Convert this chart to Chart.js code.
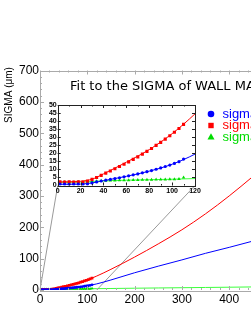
<!DOCTYPE html>
<html><head><meta charset="utf-8">
<script src="https://cdn.jsdelivr.net/npm/chart.js@4"></script>
<style>
html,body{margin:0;padding:0;background:#fff;overflow:hidden;width:251px;height:325px;}
#wrap{position:relative;width:251px;height:325px;overflow:hidden;}
#main{position:absolute;left:0;top:0;width:340px;height:325px;}
#inset{position:absolute;left:40px;top:95px;width:165px;height:105px;}
</style></head><body>
<div id="wrap"><canvas id="main" width="340" height="325"></canvas><canvas id="inset" width="165" height="105"></canvas></div>
<script>
// ---- data ----
const xPoints = [2,6,10,14,18,22,26,30,34,38,42,46,50,54,58,62,66,70,74,78,82,86,90,94,98,102,106,110];
const sigRed   = [2.3,2.2,2.3,2.2,2.3,2.2,2.7,3.8,5.0,6.3,7.7,9.0,10.4,11.8,13.2,14.7,16.2,17.8,19.5,21.2,23.0,24.9,26.8,28.8,30.9,33.1,35.4,38.0];
const sigBlue  = [0.8,0.8,0.7,0.8,0.8,0.7,0.9,1.6,2.2,2.8,3.3,3.8,4.3,4.8,5.4,6.0,6.6,7.2,7.9,8.6,9.3,10.1,10.9,11.8,12.7,13.7,14.8,16.4];
const sigGreen = [2.0,2.1,2.0,2.0,2.1,2.0,2.2,2.5,2.7,2.9,3.0,3.1,3.1,3.2,3.3,3.3,3.4,3.4,3.5,3.6,3.6,3.7,3.7,3.8,3.9,3.9,4.0,5.0];
const xFit     = [0,10,20,30,40,60,80,100,120,150,200,250,300,350,400,450,500,550,600];
const fitRed   = [2.2,2.3,2.6,3.9,7.2,14.5,22.3,32.2,44.5,66,105,147,192,243,300,362,427,495,567];
const fitBlue  = [0.8,0.8,0.9,1.6,3.0,5.7,8.9,13.2,19.5,32,55,76,96,117,136,156,175,195,214];
const fitGreen = [2.0,2.0,2.1,2.5,2.9,3.3,3.6,3.9,4.3,4.8,5.7,6.5,7.3,8.1,8.9,9.8,10.6,11.4,12.2];
const seriesLabels = ['sigma_x','sigma_y','sigma_z'];
const mainXTicks = [0,100,200,300,400,500,600];
const mainYTicks = [0,100,200,300,400,500,600,700];
const insetXTicks = [0,20,40,60,80,100,120];
const insetYTicks = [0,5,10,15,20,25,30,35,40,45,50];
const titleText = 'Fit to the SIGMA of WALL MATERIAL';
const yTitle = 'SIGMA (\u03BCm)';

const RED='rgb(255,0,0)', BLUE='rgb(0,0,255)', GREEN='rgb(0,220,0)', GREENL='rgb(60,255,60)';

function pts(xs, ys){ return xs.map((x,i)=>({x:x,y:ys[i]})); }

function makeDatasets(mr){
  return [
    {data:pts(xPoints,sigBlue), showLine:false, pointStyle:'circle', pointRadius:mr*0.8, backgroundColor:BLUE, borderWidth:0, order:0},
    {data:pts(xPoints,sigRed), showLine:false, pointStyle:'rect', pointRadius:mr*1.1, backgroundColor:RED, borderWidth:0, order:0},
    {data:pts(xPoints,sigGreen), showLine:false, pointStyle:'triangle', pointRadius:mr, backgroundColor:GREEN, borderWidth:0, order:0},
    {data:pts(xFit,fitBlue), showLine:true, pointRadius:0, borderColor:BLUE, borderWidth:1, cubicInterpolationMode:'monotone', order:1},
    {data:pts(xFit,fitRed), showLine:true, pointRadius:0, borderColor:RED, borderWidth:1, cubicInterpolationMode:'monotone', order:1},
    {data:pts(xFit,fitGreen), showLine:true, pointRadius:0, borderColor:GREENL, borderWidth:1, cubicInterpolationMode:'monotone', order:1}
  ];
}

function tickPlugin(id, boxColor, xStep, yStep, xMajor, yMajor, majLen, minLen){
  return {
    id:id,
    afterDatasetsDraw(chart){
      const c=chart.ctx, a=chart.chartArea, xs=chart.scales.x, ys=chart.scales.y;
      c.save();
      c.strokeStyle=boxColor; c.lineWidth=1;
      c.strokeRect(Math.round(a.left)+0.5, Math.round(a.top)+0.5, Math.round(a.right-a.left), Math.round(a.bottom-a.top));
      c.beginPath();
      for(let v=xs.min; v<=xs.max+1e-9; v+=xStep){
        const p=Math.round(xs.getPixelForValue(v))+0.5;
        const L=(Math.abs(v/xMajor-Math.round(v/xMajor))<1e-6)?majLen:minLen;
        c.moveTo(p,a.bottom); c.lineTo(p,a.bottom-L);
        c.moveTo(p,a.top); c.lineTo(p,a.top+L);
      }
      for(let v=ys.min; v<=ys.max+1e-9; v+=yStep){
        const p=Math.round(ys.getPixelForValue(v))+0.5;
        const L=(Math.abs(v/yMajor-Math.round(v/yMajor))<1e-6)?majLen:minLen;
        c.moveTo(a.left,p); c.lineTo(a.left+L,p);
        c.moveTo(a.right,p); c.lineTo(a.right-L,p);
      }
      c.stroke();
      c.restore();
    }
  };
}

// ---- inset chart ----
const insetEl=document.getElementById('inset');
const inset = new Chart(insetEl, {
  type:'scatter',
  data:{datasets:makeDatasets(2)},
  options:{
    responsive:false, animation:false, events:[],
    layout:{padding:{top:10,right:10,left:0,bottom:0}},
    plugins:{legend:{display:false},tooltip:{enabled:false}},
    scales:{
      x:{type:'linear',min:0,max:120,afterBuildTicks(s){s.ticks=insetXTicks.map(v=>({value:v}));},
         ticks:{font:{family:'Liberation Sans',size:7,weight:'bold'},color:'#000',padding:1,maxRotation:0,autoSkip:false},
         grid:{display:false,drawTicks:false}, border:{display:false},
         afterFit(s){s.height=14.5;}},
      y:{type:'linear',min:0,max:50,afterBuildTicks(s){s.ticks=insetYTicks.map(v=>({value:v}));},
         ticks:{font:{family:'Liberation Sans',size:7,weight:'bold'},color:'#000',padding:1,autoSkip:false},
         grid:{display:false,drawTicks:false}, border:{display:false},
         afterFit(s){s.width=17.7;}}
    }
  },
  plugins:[{id:'bg',beforeDraw(chart){const a=chart.chartArea,c=chart.ctx;c.save();c.fillStyle='#fff';c.fillRect(a.left,a.top,a.right-a.left,a.bottom-a.top);c.restore();}},
           tickPlugin('insetTicks','#222',10,5,20,5,3,1.5)]
});

// ---- main chart ----
function drawMarker(c, style, x, y, r, color){
  c.fillStyle=color; c.beginPath();
  if(style==='circle'){ c.arc(x,y,r,0,Math.PI*2); }
  else if(style==='rect'){ c.rect(x-r,y-r,2*r,2*r); }
  else { c.moveTo(x,y-r*1.15); c.lineTo(x+r*1.1,y+r*0.8); c.lineTo(x-r*1.1,y+r*0.8); c.closePath(); }
  c.fill();
}

const mainDecor = {
  id:'mainDecor',
  beforeDatasetsDraw(chart){
    const c=chart.ctx, xs=chart.scales.x, ys=chart.scales.y, ia=inset.chartArea;
    const ox=insetEl.offsetLeft, oy=insetEl.offsetTop;
    c.save();
    c.strokeStyle='#999'; c.lineWidth=1;
    c.beginPath();
    c.moveTo(xs.getPixelForValue(0), ys.getPixelForValue(0)); c.lineTo(ox+ia.left, oy+ia.bottom);
    c.moveTo(xs.getPixelForValue(120), ys.getPixelForValue(0)); c.lineTo(ox+ia.right, oy+ia.bottom);
    c.stroke();
    c.restore();
  },
  afterDraw(chart){
    const c=chart.ctx;
    c.save();
    c.fillStyle='#000';
    c.font='13px "DejaVu Sans"'; c.textAlign='left'; c.textBaseline='middle';
    c.fillText(titleText, 70, 87);
    c.save(); c.translate(9,95); c.rotate(-Math.PI/2);
    c.font='10px "Liberation Sans"'; c.textAlign='center'; c.textBaseline='middle';
    c.fillText(yTitle,0,0); c.restore();
    const cols=[BLUE,RED,GREEN], styles=['circle','rect','triangle'], ry=[114,125.5,137], rr=[3.3,2.7,3.2];
    c.font='13px "Liberation Sans"'; c.textBaseline='middle';
    for(let i=0;i<3;i++){
      drawMarker(c, styles[i], 211, ry[i], rr[i], cols[i]);
      c.fillStyle=cols[i]; c.fillText(seriesLabels[i], 222.5, ry[i]);
    }
    c.restore();
  }
};

new Chart(document.getElementById('main'), {
  type:'scatter',
  data:{datasets:makeDatasets(1.8)},
  options:{
    responsive:false, animation:false, events:[],
    layout:{padding:{top:70.5,right:16.2,left:0,bottom:0}},
    plugins:{legend:{display:false},tooltip:{enabled:false}},
    scales:{
      x:{type:'linear',min:0,max:600,afterBuildTicks(s){s.ticks=mainXTicks.map(v=>({value:v}));},
         ticks:{font:{family:'Liberation Sans',size:12},color:'#000',padding:2,maxRotation:0,autoSkip:false},
         grid:{display:false,drawTicks:false}, border:{display:false},
         afterFit(s){s.height=35;}},
      y:{type:'linear',min:0,max:700,afterBuildTicks(s){s.ticks=mainYTicks.map(v=>({value:v}));},
         ticks:{font:{family:'Liberation Sans',size:12},color:'#000',padding:1,autoSkip:false},
         grid:{display:false,drawTicks:false}, border:{display:false},
         afterFit(s){s.width=40;}}
    }
  },
  plugins:[mainDecor, tickPlugin('mainTicks','#aaa',20,20,100,100,4,2)]
});
</script>
</body></html>
